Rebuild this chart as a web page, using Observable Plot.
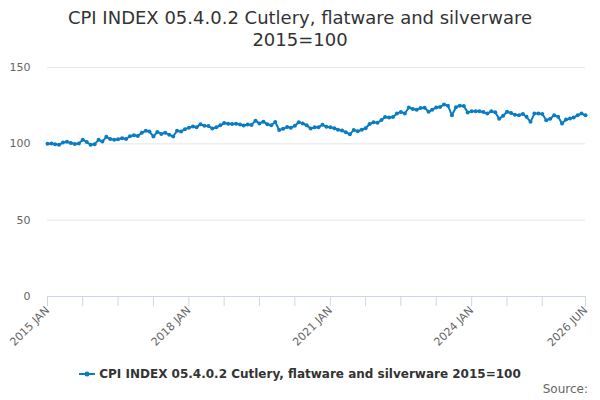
<!DOCTYPE html>
<html>
<head>
<meta charset="utf-8">
<script src="https://cdn.jsdelivr.net/npm/d3@7"></script>
<script src="https://cdn.jsdelivr.net/npm/@observablehq/plot@0.6"></script>
<style>
  html, body { margin: 0; padding: 0; background: #fff; }
  body { width: 600px; height: 400px; overflow: hidden; font-family: "DejaVu Sans", sans-serif; position: relative; }
  #title { text-align: center; color: #333; font-size: 18px; line-height: 22px; padding-top: 7px; height: 44px; }
  #chart { height: 310px; }
  #legend { text-align: center; color: #333; font-size: 12px; font-weight: bold; line-height: 16px; padding-top: 5px; }
  #legend svg { vertical-align: middle; margin-right: 4px; position: relative; top: -1px; }
  #source { position: absolute; right: 12px; top: 382px; font-size: 12px; color: #666; }
</style>
</head>
<body>
<div id="title">CPI INDEX 05.4.0.2 Cutlery, flatware and silverware<br>2015=100</div>
<div id="chart"></div>
<div id="legend"><svg width="16" height="10"><line x1="0" y1="5" x2="16" y2="5" stroke="#0a7cc1" stroke-width="2"></line><circle cx="8" cy="5" r="2.5" fill="#0a7cc1"></circle></svg>CPI INDEX 05.4.0.2 Cutlery, flatware and silverware 2015=100</div>
<div id="source">Source:</div>
<script>
const seriesName = "CPI INDEX 05.4.0.2 Cutlery, flatware and silverware 2015=100";
const startMonth = "2015-01";
const values = [
  100.0, 100.2, 99.8, 99.4, 100.8, 101.3, 100.6, 99.9, 100.3, 102.7, 101.2, 99.4,
  99.8, 102.6, 101.5, 104.6, 103.1, 102.6, 103.0, 103.6, 103.2, 105.0, 105.6, 105.2,
  107.2, 108.6, 108.0, 104.8, 107.8, 106.5, 107.2, 106.0, 104.8, 108.6, 108.0, 109.6,
  110.6, 111.4, 110.8, 112.9, 111.8, 111.6, 110.1, 110.8, 112.1, 113.6, 113.2, 113.0,
  113.2, 112.6, 112.0, 112.6, 112.4, 115.2, 113.4, 114.5, 112.9, 112.2, 114.3, 109.1,
  109.8, 111.0, 110.6, 111.8, 114.2, 113.4, 112.1, 110.0, 110.8, 110.9, 112.5, 111.2,
  110.9, 110.2, 109.2, 108.8, 107.6, 106.2, 109.1, 108.3, 109.2, 110.2, 113.0, 114.1,
  113.8, 115.6, 117.6, 117.2, 117.6, 119.8, 120.9, 119.9, 123.8, 122.8, 122.3, 123.4,
  123.7, 121.0, 122.4, 123.8, 124.2, 125.7, 125.0, 118.7, 124.0, 125.0, 124.8, 120.6,
  121.3, 121.3, 121.3, 120.8, 119.8, 121.3, 120.7, 116.5, 118.4, 121.0, 120.2, 119.1,
  118.7, 119.6, 117.7, 114.4, 119.8, 119.8, 119.6, 115.5, 116.4, 118.7, 117.7, 113.3,
  115.9, 116.6, 117.2, 118.7, 119.8, 118.7
];
const tickMonths = ["2015-01","2015-10","2016-07","2017-04","2018-01","2018-10","2019-07","2020-04",
  "2021-01","2021-10","2022-07","2023-04","2024-01","2024-10","2025-07","2026-06"];
const labelMonths = ["2015-01","2018-01","2021-01","2024-01","2026-06"];
const yTicks = [0, 50, 100, 150];

const parse = d3.utcParse("%Y-%m");
const start = parse(startMonth);
const data = values.map((v, i) => ({date: d3.utcMonth.offset(start, i), value: v}));
const tickDates = tickMonths.map(parse);
const labelSet = new Set(labelMonths);
const fmtKey = d3.utcFormat("%Y-%m");
const fmtLabel = d => labelSet.has(fmtKey(d)) ? d3.utcFormat("%Y %b")(d).toUpperCase() : "";
const color = "#0a7cc1";

const chart = Plot.plot({
  width: 600,
  height: 310,
  marginTop: 16,
  marginLeft: 47,
  marginRight: 15,
  marginBottom: 65,
  style: {fontFamily: "DejaVu Sans, sans-serif", fontSize: "11px", color: "#666", background: "#fff"},
  x: {type: "utc", domain: [tickDates[0], tickDates[tickDates.length - 1]]},
  y: {domain: [0, 150]},
  marks: [
    Plot.ruleY(yTicks.filter(d => d > 0), {stroke: "#e6e6e6", strokeWidth: 1, strokeOpacity: 1}),
    Plot.ruleY([0], {stroke: "#ccd6eb", strokeWidth: 1, strokeOpacity: 1}),
    Plot.axisY({ticks: yTicks, tickSize: 0, tickPadding: 17, label: null, fill: "#666", fontSize: 11}),
    Plot.axisX({ticks: tickDates, tickFormat: fmtLabel, tickSize: 10, tickPadding: 2, tickRotate: -45,
      label: null, stroke: "#ccd6eb", strokeOpacity: 1, fill: "#666", fontSize: 11}),
    Plot.line(data, {x: "date", y: "value", stroke: color, strokeWidth: 2}),
    Plot.dot(data, {x: "date", y: "value", fill: color, r: 2})
  ]
});
document.getElementById("chart").append(chart);
</script>
</body>
</html>
